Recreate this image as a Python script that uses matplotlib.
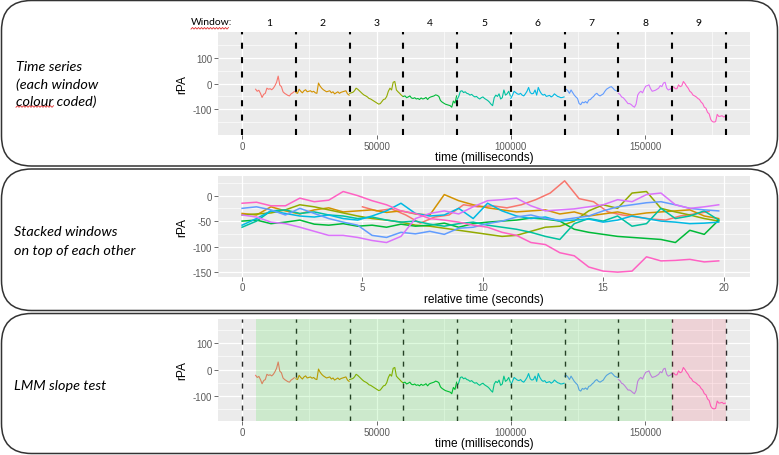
import numpy as np
import matplotlib
matplotlib.use("Agg")
import matplotlib.pyplot as plt
from matplotlib.patches import FancyBboxPatch
from matplotlib.lines import Line2D
from matplotlib.ticker import MultipleLocator, FuncFormatter

plt.rcParams['font.family'] = ['Liberation Sans', 'DejaVu Sans']
plt.rcParams['axes.unicode_minus'] = False

# ---- data: rPA per 20 s window, one sample every 0.6 s ----
window_names = ["1", "2", "3", "4", "5", "6", "7", "8", "9"]
window_colors = ["#F8766D", "#D39200", "#93AA00", "#00BA38", "#00C19F",
                 "#00B9E3", "#619CFF", "#DB72FB", "#FF61C3"]
window_len_ms = 20000
sample_step_s = 0.6
first_sample_s = [5.0, 0, 0, 0, 0, 0, 0, 0, 0]
slope_test_ok = [True, True, True, True, True, True, True, True, False]

win1 = [-22, -30, -26, -38, -54, -42, -38, -18, -22, -20, -24, -18, -8, 5, 29,
        -6, -12, -32, -38, -42, -46, -48, -40, -36, -31]
win2 = [-35, -38, -22, -30, -36, -28, -24, -32, -30, -28, -33, -30, -36, -38, 2,
        -10, -18, -24, -28, -32, -30, -28, -36, -32, -40, -36, -32, -38, -34, -32,
        -30, -28, -40, -45]
win3 = [-38, -36, -34, -28, -18, -22, -28, -34, -40, -45, -48, -52, -58, -60, -64,
        -68, -72, -76, -80, -78, -70, -62, -60, -50, -30, -18, -25, 5, 8, -25,
        -32, -38, -45, -50]
win4 = [-50, -48, -55, -52, -48, -56, -58, -55, -60, -58, -62, -56, -60, -58, -54,
        -62, -55, -52, -50, -48, -44, -46, -50, -66, -72, -76, -80, -82, -84, -86,
        -92, -68, -76, -48]
win5 = [-62, -50, -30, -28, -35, -32, -38, -40, -45, -42, -48, -52, -50, -56, -60,
        -55, -52, -58, -62, -66, -72, -80, -86, -55, -45, -50, -40, -60, -55, -25,
        -45, -40, -30, -48]
win6 = [-58, -45, -30, -35, -40, -42, -38, -45, -48, -40, -30, -15, -35, -40, -38,
        -25, -45, -15, -30, -40, -45, -42, -50, -48, -46, -52, -48, -40, -45, -50,
        -52, -55, -54, -52]
win7 = [-25, -22, -28, -38, -25, -35, -45, -52, -58, -78, -82, -72, -75, -70, -76,
        -64, -62, -55, -50, -42, -38, -45, -48, -44, -40, -30, -22, -18, -14, -12,
        -18, -25, -28, -30]
win8 = [-38, -42, -52, -55, -62, -70, -78, -78, -82, -88, -92, -80, -45, -35, -30,
        -36, -22, -10, -8, -5, -20, -30, -28, -26, -22, -18, -8, -12, 2, 5,
        -18, -25, -22, -18]
win9 = [-15, -13, -20, -20, -5, -12, -9, 8, 0, -10, -18, -30, -35, -45, -48,
        -52, -58, -62, -72, -78, -92, -96, -112, -118, -140, -148, -150, -148, -120, -128,
        -127, -125, -130, -128]
windows = [win1, win2, win3, win4, win5, win6, win7, win8, win9]

W, H = 779, 456
fig = plt.figure(figsize=(W / 100, H / 100), dpi=100)


def px_rect(x0, y0, x1, y1):
    return [x0 / W, 1 - y1 / H, (x1 - x0) / W, (y1 - y0) / H]


def gg_style(ax, xmaj, ymaj):
    ax.set_facecolor('#EBEBEB')
    for s in ax.spines.values():
        s.set_visible(False)
    ax.set_axisbelow(True)
    ax.xaxis.set_major_locator(MultipleLocator(xmaj))
    ax.xaxis.set_minor_locator(MultipleLocator(xmaj / 2))
    ax.yaxis.set_major_locator(MultipleLocator(ymaj))
    ax.yaxis.set_minor_locator(MultipleLocator(ymaj / 2))
    ax.grid(which='major', color='white', lw=0.9)
    ax.grid(which='minor', color='white', lw=0.45)
    ax.tick_params(which='major', length=2.8, width=0.6, color='#555555',
                   labelsize=7, labelcolor='#5a5a5a', pad=1.5)
    ax.tick_params(which='minor', length=0)
    fmt = FuncFormatter(lambda v, p: f"{v:g}")
    ax.xaxis.set_major_formatter(fmt)
    ax.yaxis.set_major_formatter(fmt)
    ax.set_ylabel('rPA', fontsize=8.6, va='center')
    ax.yaxis.set_label_coords(-0.068, 0.5)


def series(i):
    vals = np.array(windows[i], dtype=float)
    rel = first_sample_s[i] + sample_step_s * np.arange(len(vals))
    return rel, vals


# ---- panel 1: full time series ----
ax1 = fig.add_axes(px_rect(218, 33.3, 750, 135.7))
gg_style(ax1, 50000, 100)
for i in range(len(windows)):
    rel, vals = series(i)
    ax1.plot(i * window_len_ms + rel * 1000, vals, color=window_colors[i], lw=0.8)
bounds = np.arange(len(windows) + 1) * window_len_ms
for b in bounds:
    ax1.axvline(b, color='black', lw=1.5, linestyle=(0, (2.9, 4)))
ax1.set_xlim(-9000, 189000)
ax1.set_ylim(-199, 199.5)
ax1.set_xlabel('time (milliseconds)', fontsize=8.6, va='center')
ax1.xaxis.set_label_coords(0.5, -0.218)
for i, name in enumerate(window_names):
    ax1.text((i + 0.5) * window_len_ms, 1.1, name, transform=ax1.get_xaxis_transform(),
             ha='center', va='center', fontsize=7.5, family='Lato')
fig.text(190.5 / W, 1 - 22.7 / H, 'Window:', ha='left', va='center', fontsize=7.5, family='Lato')

# ---- panel 2: stacked windows ----
ax2 = fig.add_axes(px_rect(218, 176.7, 750, 277.5))
gg_style(ax2, 5, 50)
for i in range(len(windows)):
    rel, vals = series(i)
    ax2.plot(rel, vals, color=window_colors[i], lw=1.1)
ax2.set_xlim(-1, 21.1)
ax2.set_ylim(-158.6, 39)
ax2.set_xlabel('relative time (seconds)', fontsize=8.6, va='center')
ax2.xaxis.set_label_coords(0.5, -0.223)

# ---- panel 3: LMM slope test ----
ax3 = fig.add_axes(px_rect(218, 320, 750, 421.7))
gg_style(ax3, 50000, 100)
for i in range(len(windows)):
    rel, vals = series(i)
    ax3.plot(i * window_len_ms + rel * 1000, vals, color=window_colors[i], lw=0.8, zorder=2)
    start = i * window_len_ms + first_sample_s[i] * 1000
    ax3.axvspan(start, (i + 1) * window_len_ms,
                color='#00dd00' if slope_test_ok[i] else '#ff3050',
                alpha=0.13, lw=0, zorder=3)
for b in bounds:
    ax3.axvline(b, color='#2a2a2a', lw=1.0, linestyle=(0, (3.6, 4.3)), zorder=2.5)
ax3.set_xlim(-9000, 189000)
ax3.set_ylim(-195, 193)
ax3.set_xlabel('time (milliseconds)', fontsize=8.6, va='center')
ax3.xaxis.set_label_coords(0.5, -0.219)

# ---- rounded frames and captions ----
for y0, y1 in [(1.5, 167), (170, 311.5), (314.5, 454.5)]:
    box = FancyBboxPatch((1.5 / 100, (H - y1) / 100), 776 / 100, (y1 - y0) / 100,
                         boxstyle="round,pad=0,rounding_size=0.3",
                         transform=fig.dpi_scale_trans, fill=False,
                         lw=1.1, ec='#333333')
    fig.add_artist(box)

captions = [("Time series", 16, 67), ("(each window", 16, 84.5), ("colour coded)", 16, 102),
            ("Stacked windows", 14, 232.3), ("on top of each other", 14, 250.7),
            ("LMM slope test", 14, 385.7)]
for txt, x, y in captions:
    fig.text(x / W, 1 - y / H, txt, ha='left', va='center', fontsize=10.4,
             family='Lato', style='italic')


# spell-check squiggles
def squiggle(x0, x1, y):
    xs = np.arange(x0, x1, 1.5)
    ys = y + 0.8 * (-1) ** np.arange(len(xs))
    fig.add_artist(Line2D(xs / W, 1 - ys / H, transform=fig.transFigure,
                          color='#e03030', lw=0.6))


squiggle(191, 230, 29.3)
squiggle(16, 55, 107.5)

fig.savefig('out.png', dpi=100)
